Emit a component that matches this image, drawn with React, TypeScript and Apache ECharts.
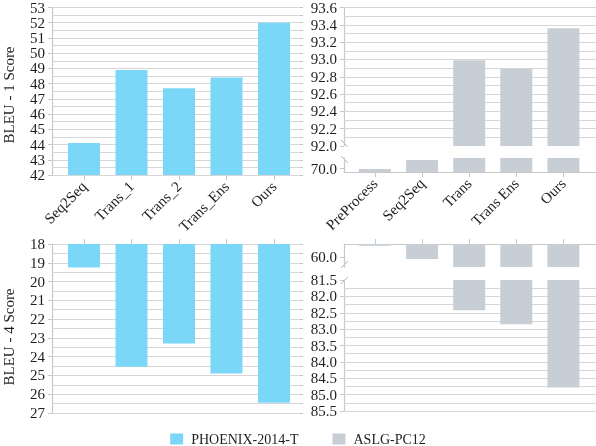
import React, { useEffect, useRef } from 'react';
import * as echarts from 'echarts';

// ---------- data ----------
const PHX_CATS = ['Seq2Seq', 'Trans_1', 'Trans_2', 'Trans_Ens', 'Ours'];
const ASLG_CATS = ['PreProcess', 'Seq2Seq', 'Trans', 'Trans Ens', 'Ours'];
const PHX_BLEU1 = [44.1, 48.9, 47.7, 48.4, 52.0];
const PHX_BLEU4 = [19.25, 24.54, 23.3, 24.9, 26.45];
const ASLG_BLEU1 = [69.97, 70.48, 92.99, 92.89, 93.36];
const ASLG_BLEU4 = [59.57, 60.09, 82.42, 82.85, 84.78];
const SERIES_NAMES = ['PHOENIX-2014-T', 'ASLG-PC12'];
const Y_TITLES = ['BLEU - 1 Score', 'BLEU - 4 Score'];

// tick labels
const TL_BLEU1 = [42, 43, 44, 45, 46, 47, 48, 49, 50, 51, 52, 53];
const TR_BLEU1_HI = [92.0, 92.2, 92.4, 92.6, 92.8, 93.0, 93.2, 93.4, 93.6];
const TR_BLEU1_LO = [70.0];
const BL_BLEU4 = [18, 19, 20, 21, 22, 23, 24, 25, 26, 27];
const BR_BLEU4_HI = [60.0];
const BR_BLEU4_LO = [81.5, 82.0, 82.5, 83.0, 83.5, 84.0, 84.5, 85.0, 85.5];

// ---------- style ----------
const FONT = '"Liberation Serif", "Times New Roman", "DejaVu Serif", serif';
const TEXT = '#1e1e1e';
const AXIS = '#c8c8c8';
const GRID_LINE = '#d6d6d6';
const CYAN = '#7AD7F8';
const GRAY = '#C8CED6';
const BREAK = '#b4b4b4';

// panel horizontal layout: grid left/width, first band centre, band step
const LP = { left: 52, width: 248, first: 84, step: 47.5 };
const RP = { left: 344, width: 252, first: 375, step: 47.1 };

const GRIDS = [
  { left: 52, top: 7, width: 248, height: 168 },   // 0 top-left
  { left: 344, top: 7, width: 252, height: 139 },  // 1 top-right upper
  { left: 344, top: 158, width: 252, height: 14 }, // 2 top-right lower
  { left: 52, top: 244, width: 248, height: 169 }, // 3 bottom-left
  { left: 344, top: 244, width: 252, height: 23 }, // 4 bottom-right upper
  { left: 344, top: 280, width: 252, height: 131 },// 5 bottom-right lower
];

// half-step grid-line positions between two label values
function gridSteps(from: number, to: number, step: number): number[] {
  const out: number[] = [];
  const n = Math.round((to - from) / step);
  for (let i = 0; i <= n; i++) out.push(Math.round((from + i * step) * 1000) / 1000);
  return out;
}

const Y0 = { min: 42, max: 53, dec: 0, labels: TL_BLEU1, lines: gridSteps(42, 53, 0.5) };
const Y1 = { min: 92.0, max: 93.6, dec: 1, labels: TR_BLEU1_HI, lines: gridSteps(92.1, 93.6, 0.1) };
const Y2 = { min: 69.8, max: 70.6, dec: 1, labels: TR_BLEU1_LO, lines: [] as number[] };
const Y3 = { min: 18, max: 27, dec: 0, inverse: true, labels: BL_BLEU4, lines: gridSteps(18, 27, 0.5) };
const Y4 = { min: 59.5, max: 60.4, dec: 1, inverse: true, labels: BR_BLEU4_HI, lines: [] as number[] };
const Y5 = { min: 81.5, max: 85.5, dec: 1, inverse: true, labels: BR_BLEU4_LO, lines: gridSteps(81.75, 85.5, 0.25) };

function xAx(gi: number, p: any, cats: string[], mode: 'labels' | 'hidden' | 'top') {
  const idx = cats.map((_, i) => i);
  return {
    type: 'value',
    gridIndex: gi,
    min: -(p.first - p.left) / p.step,
    max: (p.left + p.width - p.first) / p.step,
    show: mode !== 'hidden',
    position: mode === 'top' ? 'top' : 'bottom',
    axisLine: { show: true, onZero: false, lineStyle: { color: AXIS, width: 1 } },
    axisTick: { show: true, customValues: idx, length: 5, lineStyle: { color: AXIS } },
    axisLabel: {
      show: mode === 'labels',
      customValues: idx,
      formatter: (v: number) => cats[Math.round(v)] ?? '',
      rotate: 45,
      margin: 9,
      fontFamily: FONT,
      fontSize: 15,
      color: TEXT,
    },
    splitLine: { show: false },
  };
}

// primary y axis: labels and major ticks
function yAx(gi: number, o: any) {
  return {
    type: 'value',
    gridIndex: gi,
    min: o.min,
    max: o.max,
    inverse: !!o.inverse,
    axisLine: { show: true, onZero: false, lineStyle: { color: AXIS, width: 1.2 } },
    axisTick: { show: true, length: 4, customValues: o.labels, lineStyle: { color: AXIS } },
    axisLabel: {
      fontFamily: FONT,
      fontSize: 15,
      color: TEXT,
      margin: 7,
      customValues: o.labels,
      formatter: (v: number) => v.toFixed(o.dec),
    },
    splitLine: { show: false },
  };
}

// secondary y axis: small ticks at every grid line, nothing else
function yMinor(gi: number, o: any) {
  return {
    type: 'value',
    gridIndex: gi,
    min: o.min,
    max: o.max,
    inverse: !!o.inverse,
    axisLine: { show: false, onZero: false },
    axisTick: { show: true, length: 3, customValues: o.lines, lineStyle: { color: AXIS } },
    axisLabel: { show: false, customValues: o.lines },
    splitLine: { show: false },
  };
}

function bar(name: string, color: string, ai: number, vals: number[], lines: number[]) {
  return {
    type: 'bar',
    name,
    xAxisIndex: ai,
    yAxisIndex: ai,
    data: vals.map((v, i) => [i, v]),
    barWidth: 32,
    clip: true,
    silent: true,
    z: 3,
    itemStyle: { color },
    markLine: {
      silent: true,
      z: 1,
      symbol: ['none', 'none'],
      label: { show: false },
      emphasis: { disabled: true },
      lineStyle: { color: GRID_LINE, type: 'solid', width: 1 },
      data: lines.map((v) => ({ yAxis: v })),
    },
  };
}

function breakMark(x1: number, y1: number, x2: number, y2: number) {
  return {
    type: 'line',
    shape: { x1, y1, x2, y2 },
    style: { stroke: BREAK, lineWidth: 1 },
    silent: true,
  };
}

function buildOption() {
  return {
    animation: false,
    textStyle: { fontFamily: FONT },
    grid: GRIDS,
    xAxis: [
      xAx(0, LP, PHX_CATS, 'labels'),
      xAx(1, RP, ASLG_CATS, 'hidden'),
      xAx(2, RP, ASLG_CATS, 'labels'),
      xAx(3, LP, PHX_CATS, 'top'),
      xAx(4, RP, ASLG_CATS, 'top'),
      xAx(5, RP, ASLG_CATS, 'hidden'),
    ],
    yAxis: [
      yAx(0, Y0),
      yAx(1, Y1),
      yAx(2, Y2),
      yAx(3, Y3),
      yAx(4, Y4),
      yAx(5, Y5),
      yMinor(0, Y0),
      yMinor(1, Y1),
      yMinor(3, Y3),
      yMinor(5, Y5),
    ],
    legend: {
      left: 'center',
      top: 427,
      itemWidth: 13,
      itemHeight: 11,
      itemGap: 34,
      icon: 'rect',
      selectedMode: false,
      data: SERIES_NAMES,
      textStyle: { fontFamily: FONT, fontSize: 14, color: TEXT, padding: [0, 0, 0, 3] },
    },
    series: [
      bar(SERIES_NAMES[0], CYAN, 0, PHX_BLEU1, Y0.lines),
      bar(SERIES_NAMES[1], GRAY, 1, ASLG_BLEU1, Y1.lines),
      bar(SERIES_NAMES[1], GRAY, 2, ASLG_BLEU1, Y2.lines),
      bar(SERIES_NAMES[0], CYAN, 3, PHX_BLEU4, Y3.lines),
      bar(SERIES_NAMES[1], GRAY, 4, ASLG_BLEU4, Y4.lines),
      bar(SERIES_NAMES[1], GRAY, 5, ASLG_BLEU4, Y5.lines),
    ],
    graphic: [
      {
        type: 'text',
        x: 9,
        y: 95,
        rotation: Math.PI / 2,
        style: { text: Y_TITLES[0], font: `15px ${FONT}`, fill: TEXT, align: 'center', verticalAlign: 'middle' },
      },
      {
        type: 'text',
        x: 9,
        y: 337,
        rotation: Math.PI / 2,
        style: { text: Y_TITLES[1], font: `15px ${FONT}`, fill: TEXT, align: 'center', verticalAlign: 'middle' },
      },
      breakMark(341, 140, 348, 147),
      breakMark(341, 156, 348, 163),
      breakMark(341, 268, 348, 261),
      breakMark(341, 284, 348, 277),
    ],
  };
}

export default function App() {
  const ref = useRef<HTMLDivElement>(null);
  useEffect(() => {
    const chart = echarts.init(ref.current!, null, { renderer: 'svg' });
    chart.setOption(buildOption() as any);
    return () => chart.dispose();
  }, []);
  return (
    <div
      ref={ref}
      style={{ position: 'fixed', left: 0, top: 0, width: 596, height: 446 }}
    />
  );
}
